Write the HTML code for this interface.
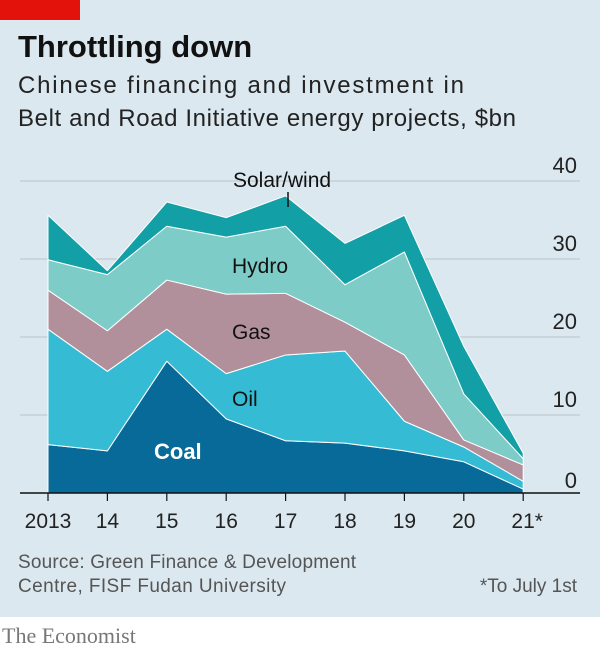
<!DOCTYPE html>
<html><head><meta charset="utf-8"><style>
body{margin:0;width:600px;height:653px;overflow:hidden;font-family:"Liberation Sans",sans-serif;}
#wrap{position:relative;width:600px;height:653px;background:#fff;}
</style></head><body>
<div id="wrap">
<svg id="svg" width="600" height="653" xmlns="http://www.w3.org/2000/svg">
<rect x="0" y="0" width="600" height="617" fill="#dbe8ef"/>
<rect x="0" y="0" width="80" height="20" fill="#e3120b"/>
<text x="18" y="57" font-size="31" font-weight="bold" fill="#111">Throttling down</text>
<text x="18" y="93" font-size="24" fill="#222" textLength="446">Chinese financing and investment in</text>
<text x="18" y="126" font-size="24" fill="#222" textLength="498">Belt and Road Initiative energy projects, $bn</text>
<g id="grid"></g><g id="areas"></g><g id="axis"></g>
<text x="154" y="459" font-size="22" font-weight="bold" fill="#fff">Coal</text>
<text x="232" y="406" font-size="21" fill="#111">Oil</text>
<text x="232" y="339" font-size="21" fill="#111">Gas</text>
<text x="232" y="273" font-size="21" fill="#111">Hydro</text>
<text x="233" y="187" font-size="21" fill="#111">Solar/wind</text>
<line x1="288" y1="192" x2="288" y2="207" stroke="#111" stroke-width="1.5"/>
<text x="18" y="568" font-size="19" fill="#555" textLength="338">Source: Green Finance &amp; Development</text>
<text x="18" y="592" font-size="19" fill="#555" textLength="268">Centre, FISF Fudan University</text>
<text x="577" y="592" font-size="19" fill="#555" text-anchor="end">*To July 1st</text>
<text x="2" y="643" font-size="22" font-family="Liberation Serif,serif" fill="#777">The Economist</text>
</svg></div>
<script>
const years=["2013","14","15","16","17","18","19","20","21*"];
const coal=[6.2,5.4,16.9,9.5,6.7,6.4,5.4,4.0,0.5];
const oil=[14.8,10.2,4.1,5.8,11.0,11.8,3.8,1.9,1.0];
const gas=[5.0,5.2,6.3,10.2,7.9,3.7,8.5,0.9,2.1];
const hydro=[3.9,7.2,6.9,7.3,8.6,4.8,13.2,5.9,0.8];
const solar=[5.7,0.5,3.1,2.5,3.9,5.3,4.7,6.1,0.7];
const yTicks=[0,10,20,30,40];
const NS="http://www.w3.org/2000/svg";
const xS=i=>48+i*59.4, yS=v=>493-v*7.8;
function mk(t,a,p){const e=document.createElementNS(NS,t);for(const k in a)e.setAttribute(k,a[k]);p.appendChild(e);return e;}
const grid=document.getElementById('grid'),areas=document.getElementById('areas'),axis=document.getElementById('axis');
yTicks.forEach(v=>{if(v>0){const l=mk('line',{x1:20,x2:580,y1:yS(v),y2:yS(v),stroke:'#b9c4ca','stroke-width':1},grid);

}
const t=mk('text',{x:577,y:v===0?yS(v)-5:yS(v)-8,'font-size':22,fill:'#222','text-anchor':'end'},grid);t.textContent=v;

});
const series=[["coal",coal,"#086a98"],["oil",oil,"#35bcd4"],["gas",gas,"#b2909b"],["hydro",hydro,"#7dccc7"],["solar-wind",solar,"#12a0a6"]];
let base=years.map(()=>0);
series.forEach(([n,d,c])=>{const top=base.map((b,i)=>b+d[i]);
let p=top.map((v,i)=>(i?'L':'M')+xS(i)+','+yS(v)).join('');
for(let i=years.length-1;i>=0;i--)p+='L'+xS(i)+','+yS(base[i]);p+='Z';
const e=mk('path',{d:p,fill:c,stroke:'#fff','stroke-width':1,'stroke-linejoin':'round'},areas);


base=top;});
const ax=mk('line',{x1:20,x2:580,y1:493,y2:493,stroke:'#111','stroke-width':1.5},axis);


years.forEach((y,i)=>{const tk=mk('line',{x1:xS(i),x2:xS(i),y1:493,y2:501,stroke:'#111','stroke-width':1.2},axis);


const t=mk('text',{x:xS(i)+(i===8?4:0),y:528,'font-size':21,fill:'#222','text-anchor':'middle'},axis);t.textContent=y;

});
</script></body></html>
